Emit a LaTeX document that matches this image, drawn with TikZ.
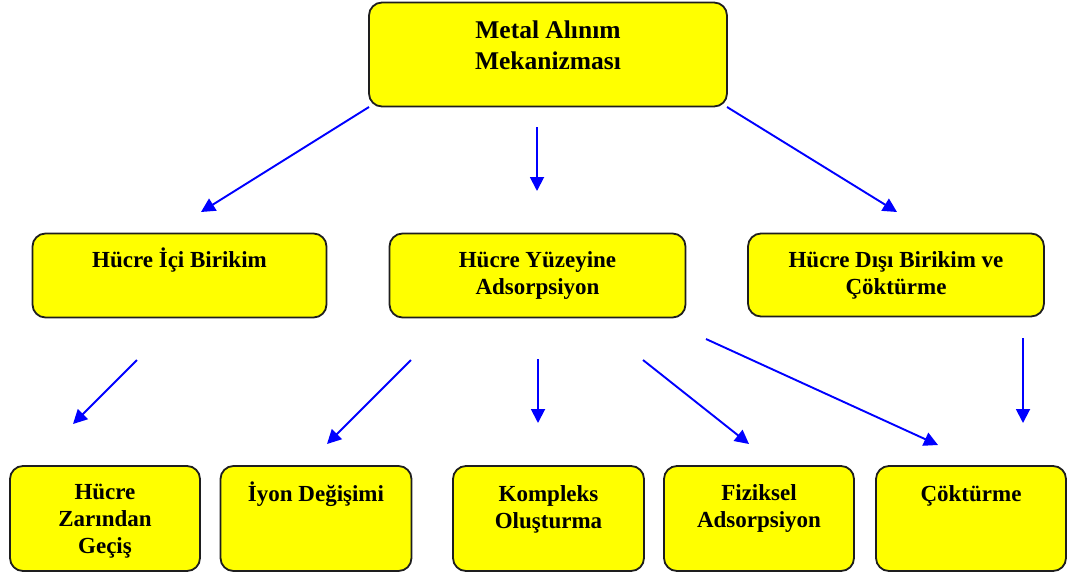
\documentclass[tikz,border=0pt]{standalone}
\usepackage{fontspec}
\setmainfont{Liberation Serif}
\usetikzlibrary{arrows.meta,calc}
\definecolor{boxyellow}{RGB}{255,255,0}
\definecolor{arrblue}{RGB}{0,0,255}
\definecolor{boxline}{RGB}{30,30,30}
\tikzset{
  box/.style={draw=boxline, line width=1.8pt, fill=boxyellow, rounded corners=13pt, inner sep=0pt},
  bigtxt/.style={font=\fontsize{25.5}{31}\selectfont\bfseries, align=center, inner sep=0pt, anchor=base},
  txt/.style={font=\fontsize{23}{27}\selectfont\bfseries, align=center, inner sep=0pt, anchor=base},
  arr/.style={draw=arrblue, line width=1.9pt, -{Triangle[length=14pt,width=14pt]}}
}
\begin{document}
\begin{tikzpicture}[x=1pt,y=-1pt]
\useasboundingbox (0,0) rectangle (1067,573);
% boxes
\node[box, minimum width=358pt, minimum height=104pt] (top) at (548,54.5) {};
\node[box, minimum width=294pt, minimum height=84pt] (ici) at (179.5,275.5) {};
\node[box, minimum width=296pt, minimum height=84pt] (yuz) at (537.5,275.5) {};
\node[box, minimum width=296pt, minimum height=83pt] (dis) at (896,275) {};
\node[box, minimum width=190pt, minimum height=105pt] (zar) at (105,518.5) {};
\node[box, minimum width=191pt, minimum height=105pt] (iyon) at (316,518.5) {};
\node[box, minimum width=191pt, minimum height=105pt] (komp) at (548.5,518.5) {};
\node[box, minimum width=190pt, minimum height=105pt] (fiz) at (759,518.5) {};
\node[box, minimum width=190pt, minimum height=105pt] (cok) at (971,518.5) {};
% texts (base anchor = baseline of last line)
\node[bigtxt] (topt) at ($(top.north)+(0,68)$) {Metal Alınım\\Mekanizması};
\node[txt] (icit) at ($(ici.north)+(0,35)$) {Hücre İçi Birikim};
\node[txt] (yuzt) at ($(yuz.north)+(0,62)$) {Hücre Yüzeyine\\Adsorpsiyon};
\node[txt] (dist) at ($(dis.north)+(0,62)$) {Hücre Dışı Birikim ve\\Çöktürme};
\node[txt] (zart) at ($(zar.north)+(0,88)$) {Hücre\\Zarından\\Geçiş};
\node[txt] (iyont) at ($(iyon.north)+(0,36)$) {İyon Değişimi};
\node[txt] (kompt) at ($(komp.north)+(0,63)$) {Kompleks\\Oluşturma};
\node[txt] (fizt) at ($(fiz.north)+(0,62)$) {Fiziksel\\Adsorpsiyon};
\node[txt] (cokt) at ($(cok.north)+(0,36)$) {Çöktürme};
% arrow endpoints
\coordinate (a1s) at (369,107); \coordinate (a1e) at (201,212);
\coordinate (a2s) at (537,127); \coordinate (a2e) at (537,191);
\coordinate (a3s) at (727,107); \coordinate (a3e) at (897,212);
\coordinate (a4s) at (137,360); \coordinate (a4e) at (73,424);
\coordinate (a5s) at (411,360); \coordinate (a5e) at (327,444);
\coordinate (a6s) at (538,359); \coordinate (a6e) at (538,423);
\coordinate (a7s) at (643,360); \coordinate (a7e) at (749,444);
\coordinate (a8s) at (706,339); \coordinate (a8e) at (938,445);
\coordinate (a9s) at (1023,338); \coordinate (a9e) at (1023,423);
\foreach \i in {1,...,9} { \draw[arr] (a\i s) -- (a\i e); }
\end{tikzpicture}
\end{document}
